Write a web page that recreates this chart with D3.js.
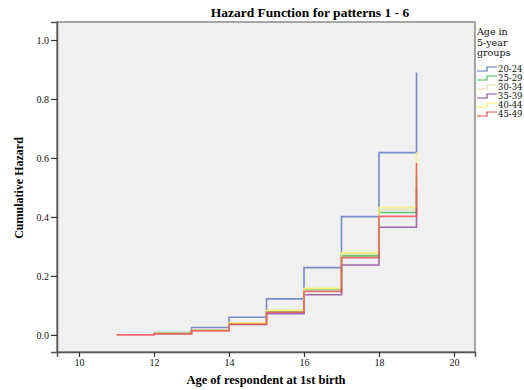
<!DOCTYPE html>
<html><head><meta charset="utf-8">
<script src="https://cdn.jsdelivr.net/npm/d3@7/dist/d3.min.js"></script>
<style>html,body{margin:0;padding:0;background:#fff;}svg{display:block;}</style>
</head><body>
<svg id="c" width="524" height="390"></svg>
<script>
const groups = ["20-24","25-29","30-34","35-39","40-44","45-49"];
const colors = ["#5a70c0","#3fc24f","#ddd8a6","#86469a","#f6f26a","#f0474b"];
const ages20_24 = [[12,0.008],[13,0.025],[14,0.060],[15,0.122],[16,0.228],[17,0.401],[18,0.618],[19,0.890]];
const ages25_29 = [[12,0.005],[13,0.016],[14,0.038],[15,0.080],[16,0.153],[17,0.268],[18,0.415],[19,0.540]];
const ages30_34 = [[12,0.005],[13,0.016],[14,0.040],[15,0.082],[16,0.156],[17,0.274],[18,0.425],[19,0.550]];
const ages35_39 = [[12,0.004],[13,0.015],[14,0.035],[15,0.072],[16,0.136],[17,0.237],[18,0.365],[19,0.500]];
const ages40_44 = [[12,0.005],[13,0.016],[14,0.040],[15,0.083],[16,0.158],[17,0.279],[18,0.432],[19,0.620]];
const ages45_49 = [[11,0.000],[12,0.004],[13,0.014],[14,0.036],[15,0.077],[16,0.147],[17,0.262],[18,0.402],[19,0.583]];
const seriesValues = [ages20_24, ages25_29, ages30_34, ages35_39, ages40_44, ages45_49];
const xTicks = [10,12,14,16,18,20];
const yTicks = [0,0.2,0.4,0.6,0.8,1.0];

const svg = d3.select("#c");
const L=57,R=475,T=22,B=352;
const x = d3.scaleLinear().domain([9.413,20.56]).range([L,R]);
const y = d3.scaleLinear().domain([-0.058,1.061]).range([B,T]);
const serif = "'Liberation Serif','DejaVu Serif',serif";
const wserif = "'DejaVu Serif',serif";

svg.append("rect").attr("x",L).attr("y",T).attr("width",R-L).attr("height",B-T)
  .attr("fill","#f0f0f0").attr("stroke","#8a8a8a").attr("stroke-width",1.5);

const line = d3.line().x(d=>x(d[0])).y(d=>y(d[1])).curve(d3.curveStepAfter);
seriesValues.forEach((s,i)=>{
  svg.append("path").attr("d",line(s)).attr("fill","none")
    .attr("stroke",colors[i]).attr("stroke-width",1.6).attr("stroke-opacity",0.8);
});

const ya = svg.append("g").attr("transform",`translate(${L},0)`)
  .call(d3.axisLeft(y).tickValues(yTicks).tickFormat(d3.format(".1f")).tickSize(6).tickPadding(2));
const xa = svg.append("g").attr("transform",`translate(0,${B})`)
  .call(d3.axisBottom(x).tickValues(xTicks).tickFormat(d3.format("d")).tickSize(5).tickPadding(2));
[ya,xa].forEach(a=>{
  a.select(".domain").attr("stroke","#555").attr("stroke-width",1.5);
  a.selectAll(".tick line").attr("stroke","#333").attr("stroke-width",1.2);
  a.selectAll(".tick text").attr("font-family",serif).attr("font-size",10).attr("fill","#111");
});

svg.append("text").attr("x",310).attr("y",17).attr("text-anchor","middle")
  .attr("font-family",serif).attr("font-weight","bold").attr("font-size",13.5)
  .text("Hazard Function for patterns 1 - 6");
svg.append("text").attr("x",266).attr("y",384).attr("text-anchor","middle")
  .attr("font-family",serif).attr("font-weight","bold").attr("font-size",12.5)
  .text("Age of respondent at 1st birth");
svg.append("text").attr("transform","translate(23,188) rotate(-90)").attr("text-anchor","middle")
  .attr("font-family",serif).attr("font-weight","bold").attr("font-size",12)
  .text("Cumulative Hazard");

const lg = svg.append("g");
["Age in","5-year","groups"].forEach((t,i)=>{
  lg.append("text").attr("x",477).attr("y",35+i*10.5).attr("font-family",wserif)
    .attr("font-size",9.5).attr("fill","#111").text(t);
});
groups.forEach((g,i)=>{
  const yy = 69+i*9;
  lg.append("path").attr("d",`M477,${yy+2}H487V${yy-2}H497`).attr("fill","none")
    .attr("stroke",colors[i]).attr("stroke-width",1.2);
  lg.append("text").attr("x",498).attr("y",yy+3).attr("font-family",wserif)
    .attr("font-size",8.5).attr("fill","#111").text(g);
});
</script>
</body></html>
